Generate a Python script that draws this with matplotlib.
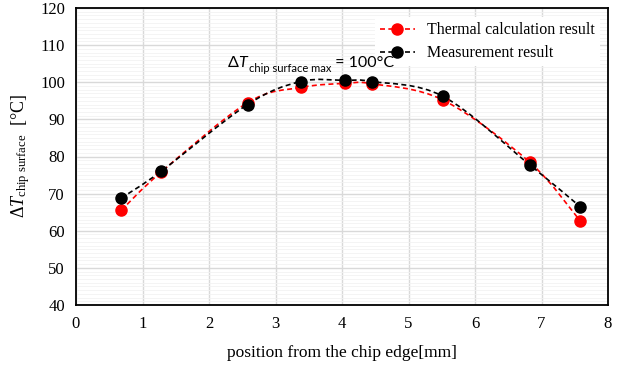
import matplotlib.pyplot as plt
from matplotlib.path import Path
from matplotlib.patches import PathPatch
from matplotlib.lines import Line2D
from matplotlib.ticker import MultipleLocator

# donnees
pos = [0.68, 1.28, 2.58, 3.38, 4.05, 4.45, 5.52, 6.82, 7.58]
calc = [65.5, 75.8, 94.5, 98.6, 99.7, 99.6, 95.2, 78.5, 62.7]
meas = [68.8, 76.0, 94.0, 100.2, 100.5, 100.2, 96.2, 77.8, 66.5]

serif = 'Liberation Serif'
plt.rcParams['mathtext.fontset'] = 'custom'
plt.rcParams['mathtext.rm'] = serif
plt.rcParams['mathtext.it'] = serif + ':italic'

def smooth_path(x, y):
    # courbe lissee type Excel (Bezier cubique)
    n = len(x)
    verts = [(x[0], y[0])]
    codes = [Path.MOVETO]
    for i in range(n - 1):
        i0 = max(i - 1, 0)
        i3 = min(i + 2, n - 1)
        c1 = (x[i] + (x[i+1] - x[i0]) / 6, y[i] + (y[i+1] - y[i0]) / 6)
        c2 = (x[i+1] - (x[i3] - x[i]) / 6, y[i+1] - (y[i3] - y[i]) / 6)
        verts += [c1, c2, (x[i+1], y[i+1])]
        codes += [Path.CURVE4] * 3
    return Path(verts, codes)

fig = plt.figure(figsize=(6.28, 3.65), dpi=100)
ax = fig.add_axes([76/628, 60/365, 532/628, 297/365])

ax.set_xlim(0, 8)
ax.set_ylim(40, 120)
ax.xaxis.set_major_locator(MultipleLocator(1))
ax.yaxis.set_major_locator(MultipleLocator(10))
ax.yaxis.set_minor_locator(MultipleLocator(1))
ax.grid(which='major', color='#d9d9d9', lw=1.0)
ax.grid(which='minor', axis='y', color='#f2f2f2', lw=0.6)
ax.set_axisbelow(True)
ax.tick_params(length=0, labelsize=12, pad=8)
ax.tick_params(which='minor', length=0)
for lab in ax.get_xticklabels() + ax.get_yticklabels():
    lab.set_fontfamily(serif)
for s in ax.spines.values():
    s.set_linewidth(1.3)

for y, col in [(calc, 'red'), (meas, 'black')]:
    ax.add_patch(PathPatch(smooth_path(pos, y), fill=False, edgecolor=col,
                           lw=1.2, ls=(0, (3, 2)), zorder=3))
    ax.plot(pos, y, 'o', color=col, ms=8, zorder=4)

handles = [Line2D([], [], color='red', ls=(0, (3, 2)), lw=1.2, marker='o', ms=8),
           Line2D([], [], color='black', ls=(0, (3, 2)), lw=1.2, marker='o', ms=8)]
leg = ax.legend(handles, ['Thermal calculation result', 'Measurement result'],
                loc='upper right', bbox_to_anchor=(1.0, 0.995),
                prop={'family': serif, 'size': 11.5}, frameon=True,
                fancybox=False, edgecolor='none', framealpha=1,
                handlelength=2.2, labelspacing=0.45, borderpad=0.3)
leg.set_zorder(5)

# annotation en plusieurs morceaux (police sans serif), au-dessus de la legende
sans = 'Lato'
t = ax.text(2.28, 104.2, 'Δ', family=sans, fontsize=11.5, zorder=6)
t = ax.annotate('T', xy=(1, 0), xycoords=t, va='bottom', family=sans,
                style='italic', fontsize=11.5, zorder=6)
t = ax.annotate('chip surface max', xy=(1, 0), xycoords=t, xytext=(1, -3),
                textcoords='offset points', va='bottom', family=sans,
                fontsize=8, zorder=6)
ax.annotate(' = 100°C', xy=(1, 0), xycoords=t, xytext=(0, 3),
            textcoords='offset points', va='bottom', family=sans,
            fontsize=11.5, zorder=6)

ax.set_xlabel('position from the chip edge[mm]', family=serif, fontsize=12.5, labelpad=9)
ax.set_ylabel(r'$\Delta T_{\mathrm{chip\ surface}}$  [°C]', family=serif, fontsize=13, labelpad=6)

fig.savefig('out.png', dpi=100)
